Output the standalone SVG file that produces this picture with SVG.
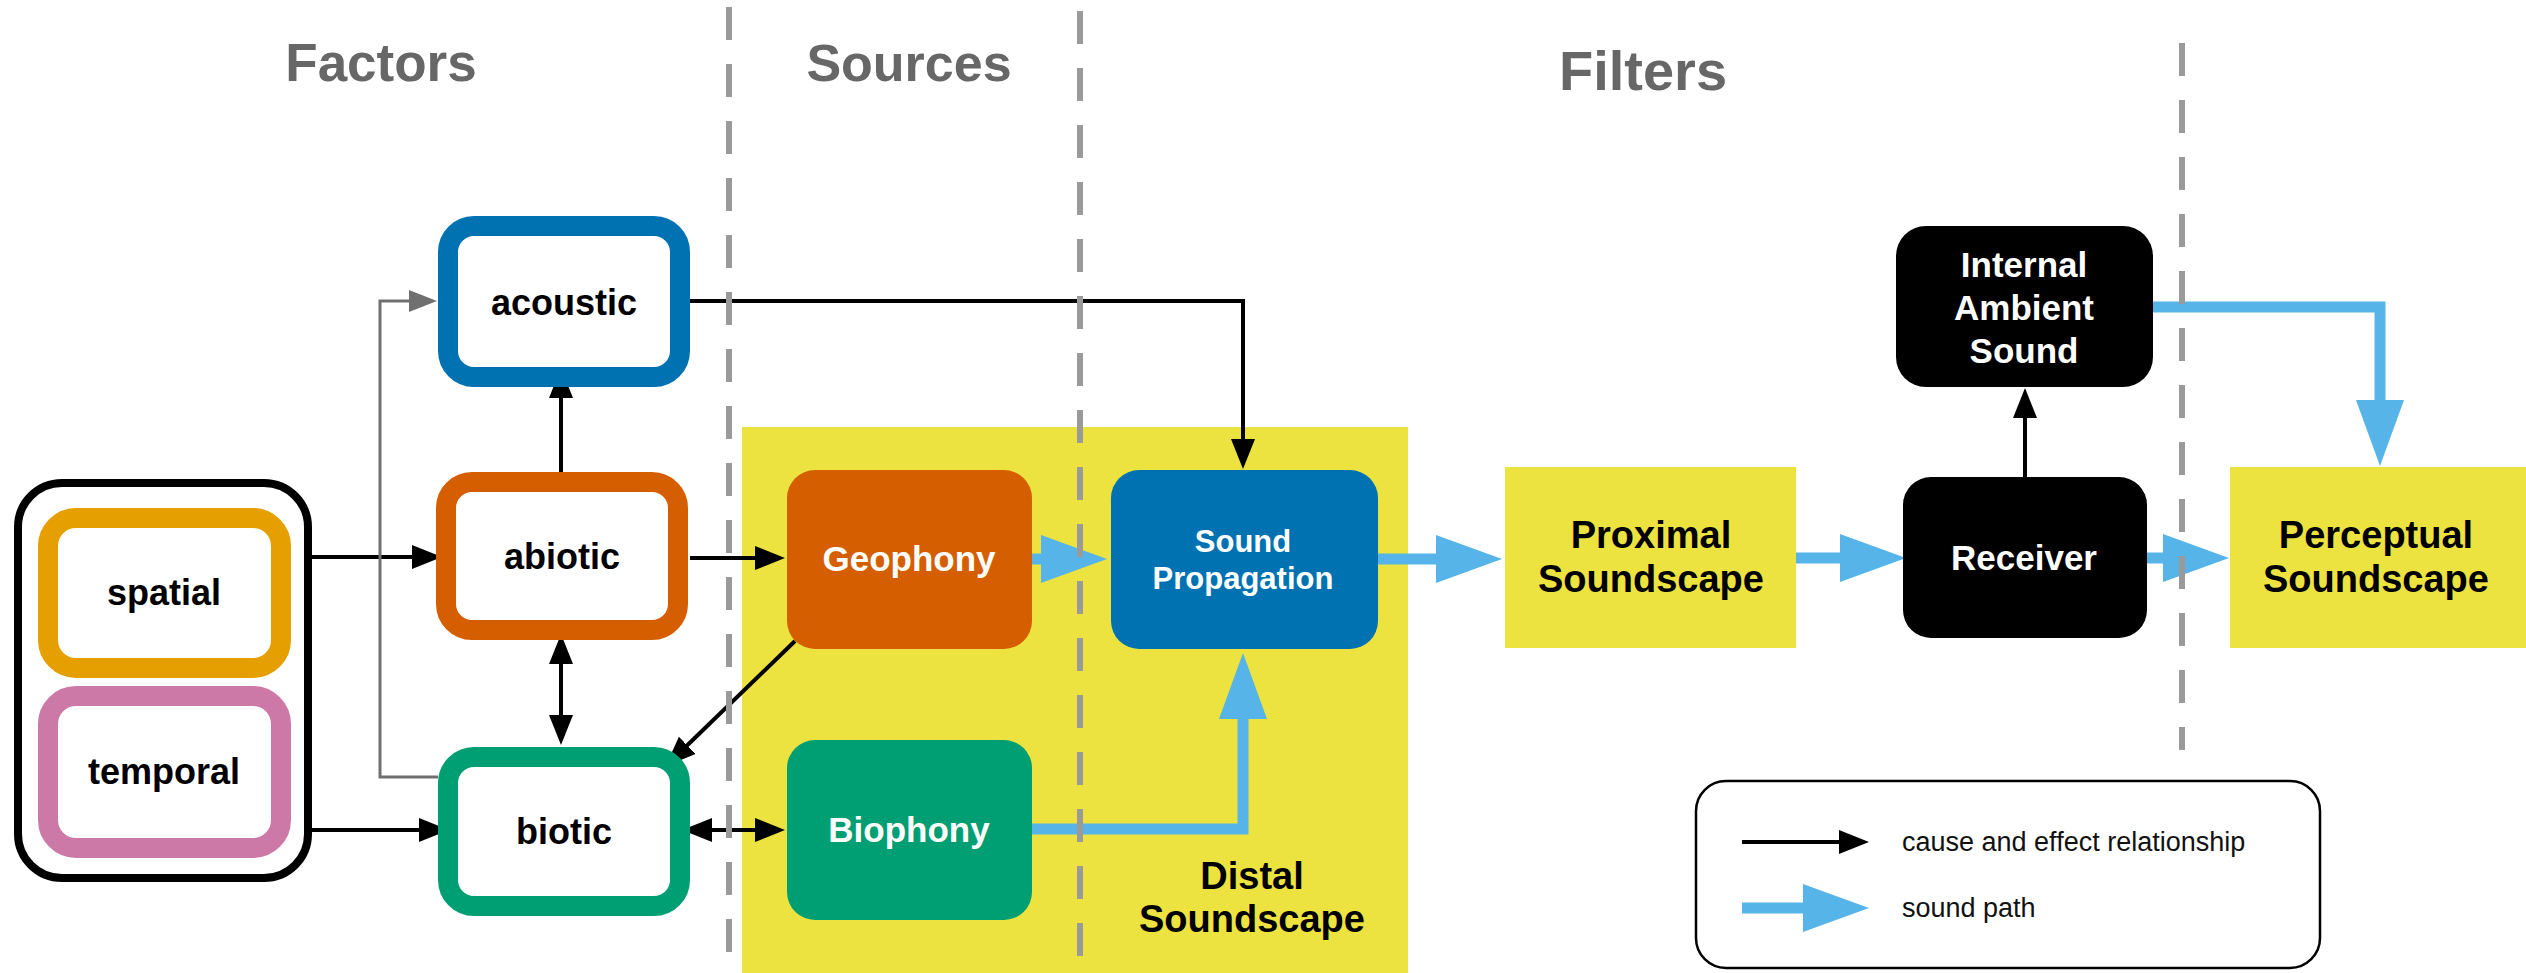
<svg xmlns="http://www.w3.org/2000/svg" width="2526" height="973" viewBox="0 0 2526 973">
<style>
  text { font-family: "Liberation Sans", Arial, sans-serif; }
  .title { font-weight: bold; fill: #676767; text-anchor: middle; }
  .lbl { font-weight: bold; fill: #000; text-anchor: middle; }
  .wlbl { font-weight: bold; fill: #fff; text-anchor: middle; }
  .frame { fill: #fff; stroke-width: 20; }
  .yel { fill: #ECE340; }
  .cause { fill: none; stroke: #000; stroke-width: 4; }
  .grayc { fill: none; stroke: #707070; stroke-width: 3; }
  .sound { fill: none; stroke: #56B4E9; stroke-width: 11; stroke-linejoin: miter; }
  .dash { stroke: #9a9a9a; stroke-width: 6; stroke-dasharray: 33 24; }
  .legtxt { font-size: 27px; fill: #111; }
</style>
<defs>
  <marker id="ah" markerUnits="userSpaceOnUse" markerWidth="32" markerHeight="26" refX="1" refY="12" orient="auto-start-reverse" viewBox="0 0 32 26">
    <path d="M0,0 L30,12 L0,24 z" fill="#000"/>
  </marker>
  <marker id="ahg" markerUnits="userSpaceOnUse" markerWidth="32" markerHeight="26" refX="1" refY="11" orient="auto" viewBox="0 0 32 26">
    <path d="M0,0 L28,11 L0,22 z" fill="#707070"/>
  </marker>
  <marker id="bh" markerUnits="userSpaceOnUse" markerWidth="68" markerHeight="50" refX="1" refY="24" orient="auto" viewBox="0 0 68 50">
    <path d="M0,0 L66,24 L0,48 z" fill="#56B4E9"/>
  </marker>
</defs>

<rect width="2526" height="973" fill="#fff"/>

<!-- section titles -->
<text class="title" x="381" y="81" font-size="53">Factors</text>
<text class="title" x="909" y="81" font-size="52">Sources</text>
<text class="title" x="1643" y="90" font-size="56">Filters</text>

<!-- distal soundscape region -->
<g id="distal-soundscape">
  <rect class="yel" x="742" y="427" width="666" height="546"/>
  <text class="lbl" x="1252" y="889" font-size="38">Distal</text>
  <text class="lbl" x="1252" y="932" font-size="38">Soundscape</text>
</g>

<!-- connectors -->
<g id="connectors">
  <line class="cause" x1="312" y1="557" x2="413" y2="557" marker-end="url(#ah)"/>
  <line class="cause" x1="312" y1="830" x2="420" y2="830" marker-end="url(#ah)"/>
  <line class="cause" x1="690" y1="558" x2="756" y2="558" marker-end="url(#ah)"/>
  <path class="cause" d="M690,301 H1243 V440" marker-end="url(#ah)"/>
  <line class="cause" x1="561" y1="474" x2="561" y2="397" marker-end="url(#ah)"/>
  <line class="cause" x1="561" y1="663" x2="561" y2="716" marker-start="url(#ah)" marker-end="url(#ah)"/>
  <line class="cause" x1="795" y1="641" x2="686.5" y2="746" marker-end="url(#ah)"/>
  <line class="cause" x1="711" y1="830" x2="756" y2="830" marker-start="url(#ah)" marker-end="url(#ah)"/>
  <path class="grayc" d="M438,777 H380 V301 H410" marker-end="url(#ahg)"/>
  <line class="cause" x1="2025" y1="477" x2="2025" y2="417" marker-end="url(#ah)"/>

  <line class="sound" x1="1030" y1="559" x2="1042" y2="559" marker-end="url(#bh)"/>
  <line class="sound" x1="1376" y1="559" x2="1437" y2="559" marker-end="url(#bh)"/>
  <line class="sound" x1="1794" y1="558" x2="1841" y2="558" marker-end="url(#bh)"/>
  <line class="sound" x1="2144" y1="558" x2="2164" y2="558" marker-end="url(#bh)"/>
  <path class="sound" d="M1030,829 H1243 V718" marker-end="url(#bh)"/>
  <path class="sound" d="M2151,307 H2380 V401" marker-end="url(#bh)"/>
</g>

<!-- dashed section dividers -->
<g id="dividers">
  <line class="dash" x1="729" y1="7" x2="729" y2="973"/>
  <line class="dash" x1="1080" y1="11" x2="1080" y2="973"/>
  <line class="dash" x1="2182" y1="43" x2="2182" y2="750"/>
</g>

<!-- factor nodes -->
<g id="spatial-temporal">
  <rect x="18" y="483" width="290" height="395" rx="44" fill="#fff" stroke="#000" stroke-width="8"/>
</g>
<g id="spatial">
  <rect class="frame" x="48" y="518" width="233" height="150" rx="28" stroke="#E69F00"/>
  <text class="lbl" x="164" y="605" font-size="36">spatial</text>
</g>
<g id="temporal">
  <rect class="frame" x="48" y="696" width="233" height="152" rx="28" stroke="#CC79A7"/>
  <text class="lbl" x="164" y="784" font-size="36">temporal</text>
</g>
<g id="acoustic">
  <rect class="frame" x="448" y="226" width="232" height="151" rx="26" stroke="#0072B2"/>
  <text class="lbl" x="564" y="315" font-size="36">acoustic</text>
</g>
<g id="abiotic">
  <rect class="frame" x="446" y="482" width="232" height="148" rx="26" stroke="#D55E00"/>
  <text class="lbl" x="562" y="569" font-size="36">abiotic</text>
</g>
<g id="biotic">
  <rect class="frame" x="448" y="757" width="232" height="149" rx="26" stroke="#009E73"/>
  <text class="lbl" x="564" y="844" font-size="36">biotic</text>
</g>

<!-- source nodes -->
<g id="geophony">
  <rect x="787" y="470" width="245" height="179" rx="28" fill="#D55E00"/>
  <text class="wlbl" x="909" y="571" font-size="35">Geophony</text>
</g>
<g id="biophony">
  <rect x="787" y="740" width="245" height="180" rx="28" fill="#009E73"/>
  <text class="wlbl" x="909" y="842" font-size="35">Biophony</text>
</g>

<!-- filter nodes -->
<g id="sound-propagation">
  <rect x="1111" y="470" width="267" height="179" rx="28" fill="#0072B2"/>
  <text class="wlbl" x="1243" y="552" font-size="31">Sound</text>
  <text class="wlbl" x="1243" y="589" font-size="31">Propagation</text>
</g>
<g id="proximal-soundscape">
  <rect class="yel" x="1505" y="467" width="291" height="181"/>
  <text class="lbl" x="1651" y="548" font-size="38">Proximal</text>
  <text class="lbl" x="1651" y="592" font-size="38">Soundscape</text>
</g>
<g id="receiver">
  <rect x="1903" y="477" width="244" height="161" rx="28" fill="#000"/>
  <text class="wlbl" x="2024" y="570" font-size="35">Receiver</text>
</g>
<g id="internal-ambient-sound">
  <rect x="1896" y="226" width="257" height="161" rx="30" fill="#000"/>
  <text class="wlbl" x="2024" y="277" font-size="35">Internal</text>
  <text class="wlbl" x="2024" y="320" font-size="35">Ambient</text>
  <text class="wlbl" x="2024" y="363" font-size="35">Sound</text>
</g>
<g id="perceptual-soundscape">
  <rect class="yel" x="2230" y="467" width="296" height="181"/>
  <text class="lbl" x="2376" y="548" font-size="38">Perceptual</text>
  <text class="lbl" x="2376" y="592" font-size="38">Soundscape</text>
</g>

<!-- legend -->
<g id="legend">
  <rect x="1696" y="781" width="624" height="187" rx="30" fill="#fff" stroke="#000" stroke-width="2.5"/>
  <line class="cause" x1="1742" y1="842" x2="1840" y2="842" marker-end="url(#ah)"/>
  <text class="legtxt" x="1902" y="851">cause and effect relationship</text>
  <line class="sound" x1="1742" y1="908" x2="1804" y2="908" marker-end="url(#bh)"/>
  <text class="legtxt" x="1902" y="917">sound path</text>
</g>
</svg>
